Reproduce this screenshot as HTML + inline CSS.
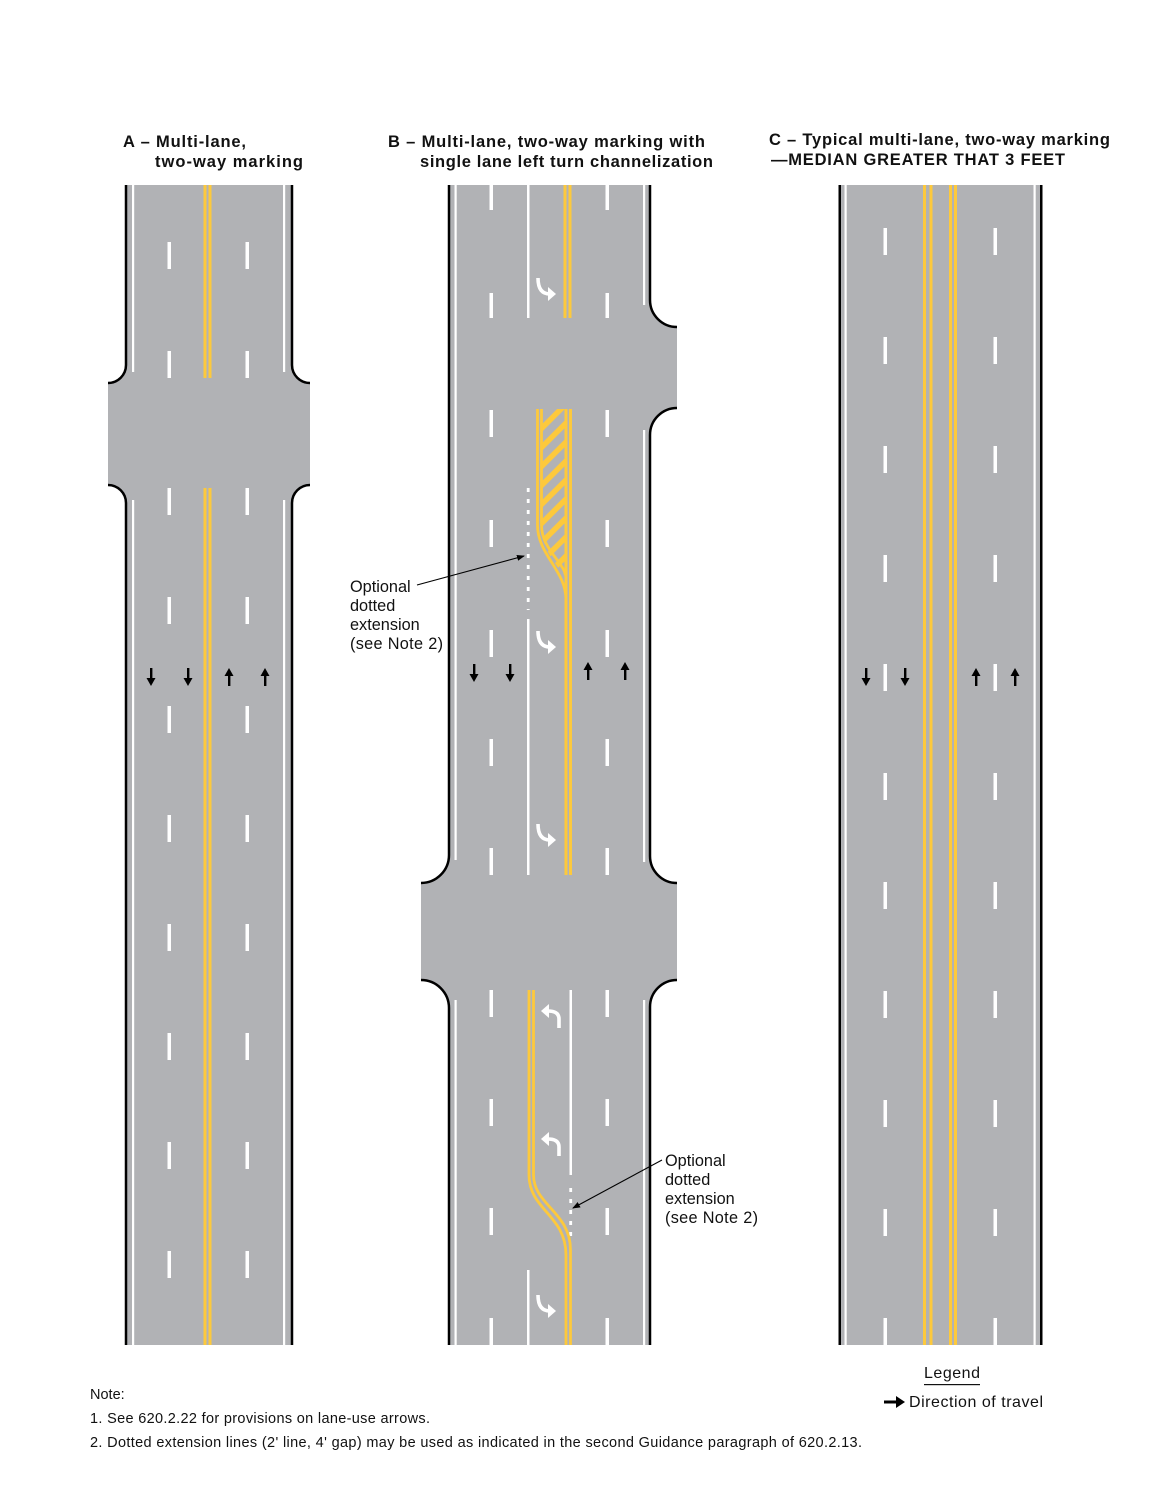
<!DOCTYPE html>
<html><head><meta charset="utf-8"><style>
html,body{margin:0;padding:0;background:#fff;}
svg{display:block;}
text{font-family:"Liberation Sans",Arial,sans-serif;}
</style></head><body>
<svg width="1159" height="1500" viewBox="0 0 1159 1500" xmlns="http://www.w3.org/2000/svg">
<defs>
<marker id="ah" markerWidth="8" markerHeight="8" refX="7" refY="4" orient="auto" markerUnits="userSpaceOnUse">
<path d="M0,1 L8,4 L0,7 Z" fill="#000"/></marker>
<clipPath id="hc"><path d="M541,409 H567 V578 C560,570 541,550 541,525 Z"/></clipPath>
<g id="dn"><rect x="-1" y="0" width="2.4" height="12" fill="#000"/><path d="M-4.5,10 L0,18 L4.5,10 Z" fill="#000"/></g>
<g id="up"><rect x="-1" y="6" width="2.4" height="12" fill="#000"/><path d="M-4.5,8 L0,0 L4.5,8 Z" fill="#000"/></g>
<g id="ta"><path d="M-5,-12 Q-5,4 7,4" fill="none" stroke="#fff" stroke-width="3.6"/><path d="M5,-3 L13,4 L5,11 Z" fill="#fff"/></g>
<g id="tb"><path d="M7,12 L7,3 Q7,-5 -4,-5" fill="none" stroke="#fff" stroke-width="3.6"/><path d="M-3,-12 L-11,-5 L-3,2 Z" fill="#fff"/></g>
</defs>

<!-- Titles -->
<g font-size="16.5" font-weight="bold" fill="#111">
<text x="123" y="147" textLength="123">A – Multi-lane,</text>
<text x="155" y="167" textLength="148">two-way marking</text>
<text x="388" y="147" textLength="317">B – Multi-lane, two-way marking with</text>
<text x="420" y="167" textLength="293">single lane left turn channelization</text>
<text x="769" y="145" textLength="341">C – Typical multi-lane, two-way marking</text>
<text x="771" y="165" textLength="294">—MEDIAN GREATER THAT 3 FEET</text>
</g>

<!-- Panel A -->
<path d="M126,185 H292 V365 A18 18 0 0 0 310,383 V485 A18 18 0 0 0 292,503 V1345 H126 V503 A18 18 0 0 0 108,485 V383 A18 18 0 0 0 126,365 Z" fill="#b1b2b5"/>
<g fill="none" stroke="#000" stroke-width="2.5">
<path d="M126,185 V365 A18 18 0 0 1 108,383"/><path d="M108,485 A18 18 0 0 1 126,503 V1345"/>
<path d="M292,185 V365 A18 18 0 0 0 310,383"/><path d="M310,485 A18 18 0 0 0 292,503 V1345"/>
</g>
<g fill="#fff"><rect x="132" y="185" width="2.2" height="187"/><rect x="132" y="500" width="2.2" height="845"/>
<rect x="283" y="185" width="2.2" height="187"/><rect x="283" y="500" width="2.2" height="845"/></g>
<g fill="#fdc93c"><rect x="203.5" y="185" width="3" height="193"/><rect x="208.5" y="185" width="3" height="193"/>
<rect x="203.5" y="488" width="3" height="857"/><rect x="208.5" y="488" width="3" height="857"/></g>
<g fill="#fff">
<rect x="167.5" y="242" width="3.5" height="27"/><rect x="245.5" y="242" width="3.5" height="27"/>
<rect x="167.5" y="351" width="3.5" height="27"/><rect x="245.5" y="351" width="3.5" height="27"/>
<rect x="167.5" y="488" width="3.5" height="27"/><rect x="245.5" y="488" width="3.5" height="27"/>
<rect x="167.5" y="597" width="3.5" height="27"/><rect x="245.5" y="597" width="3.5" height="27"/>
<rect x="167.5" y="706" width="3.5" height="27"/><rect x="245.5" y="706" width="3.5" height="27"/>
<rect x="167.5" y="815" width="3.5" height="27"/><rect x="245.5" y="815" width="3.5" height="27"/>
<rect x="167.5" y="924" width="3.5" height="27"/><rect x="245.5" y="924" width="3.5" height="27"/>
<rect x="167.5" y="1033" width="3.5" height="27"/><rect x="245.5" y="1033" width="3.5" height="27"/>
<rect x="167.5" y="1142" width="3.5" height="27"/><rect x="245.5" y="1142" width="3.5" height="27"/>
<rect x="167.5" y="1251" width="3.5" height="27"/><rect x="245.5" y="1251" width="3.5" height="27"/>
</g>
<use href="#dn" x="151" y="668"/><use href="#dn" x="188" y="668"/><use href="#up" x="229" y="668"/><use href="#up" x="265" y="668"/>

<!-- Panel B -->
<path d="M449,185 H650 V300 A27 27 0 0 0 677,327 V408 A27 27 0 0 0 650,435 V856 A27 27 0 0 0 677,883 V980 A27 27 0 0 0 650,1007 V1345 H449 V1008 A28 28 0 0 0 421,980 V883 A28 28 0 0 0 449,855 Z" fill="#b1b2b5"/>
<g fill="none" stroke="#000" stroke-width="2.5">
<path d="M449,185 V855 A28 28 0 0 1 421,883"/><path d="M421,980 A28 28 0 0 1 449,1008 V1345"/>
<path d="M650,185 V300 A27 27 0 0 0 677,327"/><path d="M677,408 A27 27 0 0 0 650,435 V856 A27 27 0 0 0 677,883"/>
<path d="M677,980 A27 27 0 0 0 650,1007 V1345"/>
</g>
<g fill="#fff">
<rect x="454.5" y="185" width="2.2" height="675"/><rect x="454.5" y="1000" width="2.2" height="345"/>
<rect x="643" y="185" width="2.2" height="120"/><rect x="643" y="430" width="2.2" height="432"/><rect x="643" y="1000" width="2.2" height="345"/>
<rect x="527" y="185" width="2.5" height="133"/><rect x="527" y="619" width="2.5" height="256"/>
<rect x="569.5" y="990" width="2.5" height="185"/><rect x="527" y="1270" width="2.5" height="75"/>
</g>
<path d="M528.2,488 V610" stroke="#fff" stroke-width="2.8" stroke-dasharray="4 7"/>
<path d="M570.7,1188 V1242" stroke="#fff" stroke-width="2.8" stroke-dasharray="4 7"/>
<g fill="#fff">
<rect x="489.5" y="185" width="3.5" height="25"/><rect x="605.5" y="185" width="3.5" height="25"/>
<rect x="489.5" y="293" width="3.5" height="25"/><rect x="605.5" y="293" width="3.5" height="25"/>
<rect x="489.5" y="410" width="3.5" height="27"/><rect x="605.5" y="410" width="3.5" height="27"/>
<rect x="489.5" y="520" width="3.5" height="27"/><rect x="605.5" y="520" width="3.5" height="27"/>
<rect x="489.5" y="630" width="3.5" height="27"/><rect x="605.5" y="630" width="3.5" height="27"/>
<rect x="489.5" y="739" width="3.5" height="27"/><rect x="605.5" y="739" width="3.5" height="27"/>
<rect x="489.5" y="848" width="3.5" height="27"/><rect x="605.5" y="848" width="3.5" height="27"/>
<rect x="489.5" y="990" width="3.5" height="27"/><rect x="605.5" y="990" width="3.5" height="27"/>
<rect x="489.5" y="1099" width="3.5" height="27"/><rect x="605.5" y="1099" width="3.5" height="27"/>
<rect x="489.5" y="1208" width="3.5" height="27"/><rect x="605.5" y="1208" width="3.5" height="27"/>
<rect x="489.5" y="1318" width="3.5" height="27"/><rect x="605.5" y="1318" width="3.5" height="27"/>
</g>
<!-- yellow B -->
<g fill="#fdc93c"><rect x="563.5" y="185" width="3" height="133"/><rect x="568.5" y="185" width="3" height="133"/>
<rect x="564.5" y="409" width="3" height="466"/><rect x="569" y="409" width="3" height="466"/></g>
<g clip-path="url(#hc)" stroke="#fdc93c" stroke-width="5.5">
<path d="M530,440 L580,390 M530,459 L580,409 M530,478 L580,428 M530,497 L580,447 M530,516 L580,466 M530,535 L580,485 M530,554 L580,504 M530,573 L580,523 M530,592 L580,542 M530,611 L580,561 M530,630 L580,580"/>
</g>
<g fill="none" stroke="#fdc93c" stroke-width="2.8">
<path d="M537.5,409 V525 C537.5,555 566,570 566,600"/>
<path d="M541.5,409 V525 C541.5,550 565,562 566,578"/>
<path d="M529,990 V1175 C529,1210 566,1215 566,1255 V1345"/>
<path d="M533.5,990 V1175 C533.5,1205 570.5,1212 570.5,1250 V1345"/>
</g>
<use href="#ta" x="543" y="290"/><use href="#ta" x="543" y="643"/><use href="#ta" x="543" y="836"/><use href="#ta" x="543" y="1307"/>
<use href="#tb" x="552" y="1016"/><use href="#tb" x="552" y="1144"/>
<use href="#dn" x="474" y="664"/><use href="#dn" x="510" y="664"/><use href="#up" x="588" y="662"/><use href="#up" x="625" y="662"/>
<!-- callouts -->
<path d="M417,585 L524,556" stroke="#000" stroke-width="1.1" fill="none" marker-end="url(#ah)"/>
<path d="M662,1160 L573,1208" stroke="#000" stroke-width="1.1" fill="none" marker-end="url(#ah)"/>
<g font-size="16.3" fill="#111">
<text x="350" y="592">Optional</text><text x="350" y="611">dotted</text><text x="350" y="630">extension</text><text x="350" y="649" textLength="93">(see Note 2)</text>
<text x="665" y="1166">Optional</text><text x="665" y="1185">dotted</text><text x="665" y="1204">extension</text><text x="665" y="1223" textLength="93">(see Note 2)</text>
</g>

<!-- Panel C -->
<rect x="840" y="185" width="201" height="1160" fill="#b1b2b5"/>
<g fill="#000"><rect x="838.5" y="185" width="2.5" height="1160"/><rect x="1040" y="185" width="2.5" height="1160"/></g>
<g fill="#fff"><rect x="844.5" y="185" width="2.2" height="1160"/><rect x="1033.5" y="185" width="2.2" height="1160"/></g>
<g fill="#fdc93c"><rect x="923" y="185" width="3" height="1160"/><rect x="929.5" y="185" width="3" height="1160"/>
<rect x="949" y="185" width="3" height="1160"/><rect x="954" y="185" width="3" height="1160"/></g>
<g fill="#fff">
<rect x="883.5" y="228" width="3.5" height="27"/><rect x="993.5" y="228" width="3.5" height="27"/>
<rect x="883.5" y="337" width="3.5" height="27"/><rect x="993.5" y="337" width="3.5" height="27"/>
<rect x="883.5" y="446" width="3.5" height="27"/><rect x="993.5" y="446" width="3.5" height="27"/>
<rect x="883.5" y="555" width="3.5" height="27"/><rect x="993.5" y="555" width="3.5" height="27"/>
<rect x="883.5" y="664" width="3.5" height="27"/><rect x="993.5" y="664" width="3.5" height="27"/>
<rect x="883.5" y="773" width="3.5" height="27"/><rect x="993.5" y="773" width="3.5" height="27"/>
<rect x="883.5" y="882" width="3.5" height="27"/><rect x="993.5" y="882" width="3.5" height="27"/>
<rect x="883.5" y="991" width="3.5" height="27"/><rect x="993.5" y="991" width="3.5" height="27"/>
<rect x="883.5" y="1100" width="3.5" height="27"/><rect x="993.5" y="1100" width="3.5" height="27"/>
<rect x="883.5" y="1209" width="3.5" height="27"/><rect x="993.5" y="1209" width="3.5" height="27"/>
<rect x="883.5" y="1318" width="3.5" height="27"/><rect x="993.5" y="1318" width="3.5" height="27"/>
</g>
<use href="#dn" x="866" y="668"/><use href="#dn" x="905" y="668"/><use href="#up" x="976" y="668"/><use href="#up" x="1015" y="668"/>

<!-- Legend -->
<text x="924" y="1378" font-size="16" fill="#111" textLength="56">Legend</text>
<rect x="924" y="1384" width="56" height="1.2" fill="#111"/>
<rect x="884" y="1400.5" width="14" height="3" fill="#000"/><path d="M896,1396 L905,1402 L896,1408 Z" fill="#000"/>
<text x="909" y="1407" font-size="16" fill="#111" textLength="134">Direction of travel</text>

<!-- Notes -->
<g font-size="14.5" fill="#111">
<text x="90" y="1399">Note:</text>
<text x="90" y="1423" textLength="340">1. See 620.2.22 for provisions on lane-use arrows.</text>
<text x="90" y="1447" textLength="772">2. Dotted extension lines (2' line, 4' gap) may be used as indicated in the second Guidance paragraph of 620.2.13.</text>
</g>
</svg>
</body></html>
